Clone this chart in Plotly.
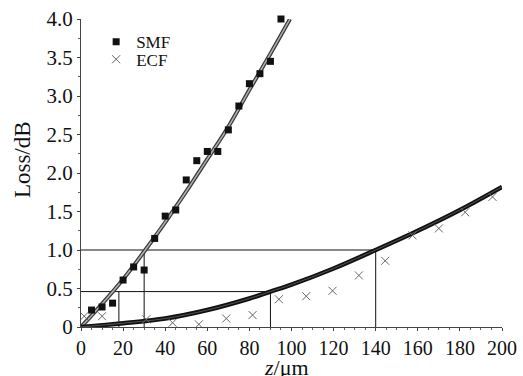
import plotly.graph_objects as go

# ---- data ----
smf_z = [5, 10, 15, 20, 25, 30, 35, 40, 45, 50, 55, 60, 65, 70, 75, 80, 85, 90, 95]
smf_loss = [0.22, 0.26, 0.31, 0.61, 0.78, 0.74, 1.15, 1.44, 1.52, 1.91, 2.16, 2.28, 2.28, 2.56, 2.87, 3.16, 3.29, 3.45, 4.0]

ecf_z = [1.5, 10, 31, 43.5, 56, 69, 81.5, 94, 107, 119.5, 132, 144.5, 157.5, 170, 182.5, 195.5]
ecf_loss = [0.14, 0.14, 0.10, 0.055, 0.035, 0.11, 0.155, 0.36, 0.40, 0.47, 0.67, 0.86, 1.19, 1.28, 1.49, 1.69]

smf_fit_z = [0, 10, 20, 30, 40, 50, 60, 70, 80, 90, 99.3]
smf_fit_loss = [0, 0.30, 0.62, 0.98, 1.36, 1.76, 2.18, 2.60, 3.08, 3.55, 4.0]

ecf_fit_z = [0, 20, 40, 60, 80, 90, 100, 120, 140, 160, 180, 200]
ecf_fit_loss = [0, 0.05, 0.11, 0.22, 0.37, 0.46, 0.55, 0.76, 1.0, 1.25, 1.52, 1.82]

# guide lines: loss levels and the z where each fibre reaches them
guide_loss = [0.46, 1.0]
guide_z_smf = [18, 30]
guide_z_ecf = [90, 140]

x_ticks = list(range(0, 201, 20))
y_ticks = [0, 0.5, 1.0, 1.5, 2.0, 2.5, 3.0, 3.5, 4.0]
y_ticklabels = ["0", "0.5", "1.0", "1.5", "2.0", "2.5", "3.0", "3.5", "4.0"]

FONT = "Liberation Serif"
fig = go.Figure()

# guide lines
for lv, zs, ze in zip(guide_loss, guide_z_smf, guide_z_ecf):
    fig.add_trace(go.Scatter(x=[0, ze], y=[lv, lv], mode="lines",
                             line=dict(color="#111", width=1), showlegend=False, hoverinfo="skip"))
    for zz in (zs, ze):
        fig.add_trace(go.Scatter(x=[zz, zz], y=[0, lv], mode="lines",
                                 line=dict(color="#111", width=1), showlegend=False, hoverinfo="skip"))

# fitted curves (thick, hatched look)
fig.add_trace(go.Scatter(x=smf_fit_z, y=smf_fit_loss, mode="lines", line_shape="spline",
                         line=dict(color="#3a3a3a", width=4), showlegend=False, hoverinfo="skip"))
fig.add_trace(go.Scatter(x=smf_fit_z, y=smf_fit_loss, mode="lines", line_shape="spline",
                         line=dict(color="#b0b0b0", width=1.5), showlegend=False, hoverinfo="skip"))
fig.add_trace(go.Scatter(x=ecf_fit_z, y=ecf_fit_loss, mode="lines", line_shape="spline",
                         line=dict(color="#111", width=4.5), showlegend=False, hoverinfo="skip"))
fig.add_trace(go.Scatter(x=ecf_fit_z, y=ecf_fit_loss, mode="lines", line_shape="spline",
                         line=dict(color="#555", width=1), showlegend=False, hoverinfo="skip"))

# measured points
fig.add_trace(go.Scatter(x=smf_z, y=smf_loss, mode="markers", name="SMF", legend="legend",
                         marker=dict(symbol="square", size=7, color="#111"), cliponaxis=False))
fig.add_trace(go.Scatter(x=ecf_z, y=ecf_loss, mode="markers", name="ECF", legend="legend2",
                         marker=dict(symbol="x-thin-open", size=8, color="#666",
                                     line=dict(color="#666", width=1)),
                         cliponaxis=False))

leg_common = dict(xanchor="left", yanchor="middle", bgcolor="rgba(0,0,0,0)",
                  font=dict(size=17, family=FONT), itemwidth=30, borderwidth=0)

fig.update_layout(
    template="none",
    width=523, height=376,
    margin=dict(l=81, r=21, t=19, b=49, autoexpand=False),
    paper_bgcolor="white", plot_bgcolor="white",
    font=dict(family=FONT, size=20, color="#111"),
    showlegend=True,
    legend=dict(x=0.036, y=0.925, **leg_common),
    legend2=dict(x=0.036, y=0.868, **leg_common),
    xaxis=dict(range=[0, 200], tickvals=x_ticks, showgrid=False, zeroline=False, automargin=False,
               showline=True, linecolor="#444", linewidth=1,
               ticks="outside", ticklen=3, tickcolor="#444",
               minor=dict(dtick=5, ticks="outside", ticklen=2, tickcolor="#666", showgrid=False),
               tickfont=dict(size=20, family=FONT)),
    yaxis=dict(range=[0, 4.0], tickvals=y_ticks, ticktext=y_ticklabels, showgrid=False, zeroline=False,
               automargin=False,
               showline=True, linecolor="#444", linewidth=1,
               ticks="outside", ticklen=3, tickcolor="#444",
               minor=dict(dtick=0.25, ticks="outside", ticklen=2, tickcolor="#666", showgrid=False),
               tickfont=dict(size=21, family=FONT)),
    annotations=[
        dict(text="Loss/dB", textangle=-90, xref="paper", yref="paper",
             x=-0.14, y=0.542, xanchor="center", yanchor="middle", showarrow=False,
             font=dict(size=23, family=FONT)),
        dict(text="<i>z</i>/μm", xref="paper", yref="paper",
             x=0.489, y=-0.133, xanchor="center", yanchor="middle", showarrow=False,
             font=dict(size=22, family=FONT)),
    ],
)

fig.write_html("out.html", config={"displayModeBar": False},
               post_script="document.body.style.margin='0';document.body.style.padding='0';")
